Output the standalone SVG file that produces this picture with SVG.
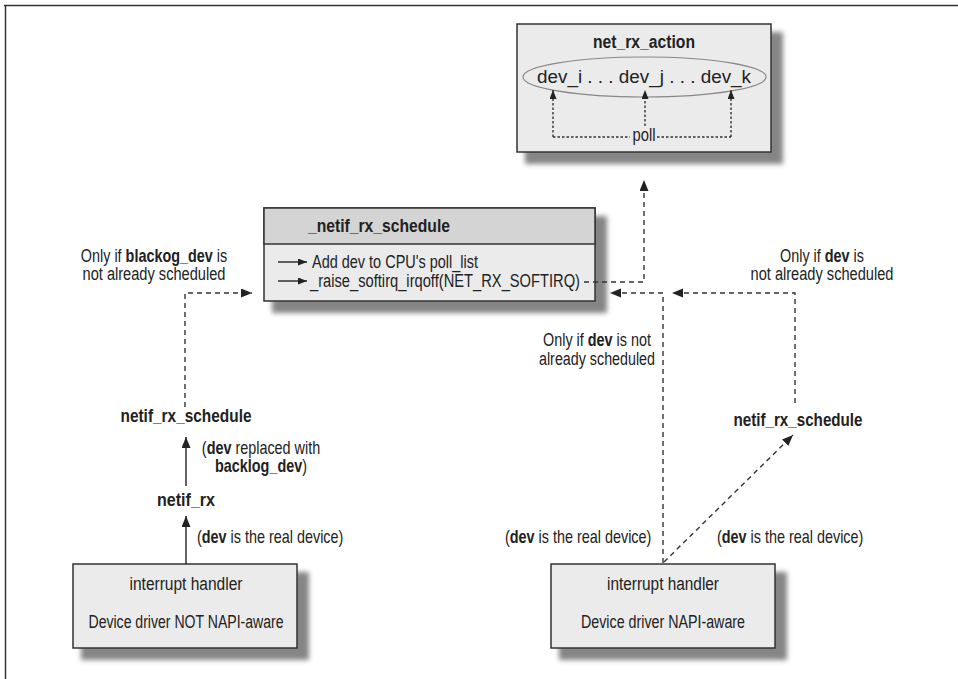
<svg xmlns="http://www.w3.org/2000/svg" width="958" height="679" viewBox="0 0 958 679">
<defs>
  <filter id="blur" x="-20%" y="-20%" width="140%" height="140%"><feGaussianBlur stdDeviation="2.5"/></filter>
  <marker id="ah" markerWidth="12" markerHeight="10" refX="11" refY="4.5" orient="auto" markerUnits="userSpaceOnUse"><path d="M0,0 L11,4.5 L0,9 z" fill="#222"/></marker>
  <marker id="ahs" markerWidth="10" markerHeight="8" refX="9" refY="3.5" orient="auto" markerUnits="userSpaceOnUse"><path d="M0,0 L9,3.5 L0,7 z" fill="#222"/></marker>
</defs>
<style>
  text{font-family:"Liberation Sans Narrow","Liberation Sans",Arial,sans-serif;font-size:18px;fill:#222}
  .b{font-weight:bold}
  text.b{font-size:17.5px}
  .m{text-anchor:middle}
  .box{fill:#ebebeb;stroke:#333;stroke-width:1.5}
  .hdr{fill:#d4d4d4;stroke:#333;stroke-width:1.5}
  .sh{fill:#858585;filter:url(#blur)}
  .dash{fill:none;stroke:#333;stroke-width:1.4;stroke-dasharray:5 4}
  .dot{fill:none;stroke:#333;stroke-width:1.4;stroke-dasharray:2.5 2}
  .solid{fill:none;stroke:#222;stroke-width:1.4}
</style>
<rect width="958" height="679" fill="#fff"/>
<path d="M4,5.5 H958 M5.5,5 V679" stroke="#333" stroke-width="1.5" fill="none"/>

<g id="net_rx_action">
  <rect class="sh" x="525" y="32" width="258" height="132"/>
  <rect class="box" x="517" y="24" width="254" height="128"/>
  <text class="b m" x="644" y="48" textLength="102" lengthAdjust="spacingAndGlyphs">net_rx_action</text>
  <ellipse cx="644.5" cy="77" rx="121.5" ry="20" fill="none" stroke="#888" stroke-width="1.2"/>
  <text class="m" x="644" y="83" textLength="214" lengthAdjust="spacingAndGlyphs">dev_i . . . dev_j . . . dev_k</text>
  <path class="dot" d="M553,137 H630 M657,137 H731"/>
  <path class="dot" d="M553,137 V90" marker-end="url(#ahs)"/>
  <path class="dot" d="M645,126 V90" marker-end="url(#ahs)"/>
  <path class="dot" d="M731,137 V90" marker-end="url(#ahs)"/>
  <text class="m" x="644" y="141" textLength="23" lengthAdjust="spacingAndGlyphs">poll</text>
</g>

<g id="netif_rx_schedule_box">
  <rect class="sh" x="272" y="216" width="335" height="97"/>
  <rect class="box" x="264" y="208" width="331" height="93"/>
  <rect class="hdr" x="264" y="208" width="331" height="36"/>
  <text class="b" x="308" y="232" textLength="142" lengthAdjust="spacingAndGlyphs">_netif_rx_schedule</text>
  <path class="solid" d="M278,262 H307" marker-end="url(#ahs)"/>
  <text x="312" y="268" textLength="166" lengthAdjust="spacingAndGlyphs">Add dev to CPU's poll_list</text>
  <path class="solid" d="M278,281 H307" marker-end="url(#ahs)"/>
  <text x="310" y="287" textLength="270" lengthAdjust="spacingAndGlyphs">_raise_softirq_irqoff(NET_RX_SOFTIRQ)</text>
</g>

<g id="left_driver">
  <rect class="sh" x="81" y="572" width="228" height="88"/>
  <rect class="box" x="73" y="564" width="224" height="84"/>
  <text class="m" x="186" y="590" textLength="113" lengthAdjust="spacingAndGlyphs">interrupt handler</text>
  <text class="m" x="186" y="628" textLength="195" lengthAdjust="spacingAndGlyphs">Device driver NOT NAPI-aware</text>
</g>

<g id="right_driver">
  <rect class="sh" x="559" y="572" width="228" height="88"/>
  <rect class="box" x="551" y="564" width="224" height="84"/>
  <text class="m" x="663" y="590" textLength="112" lengthAdjust="spacingAndGlyphs">interrupt handler</text>
  <text class="m" x="663" y="628" textLength="164" lengthAdjust="spacingAndGlyphs">Device driver NAPI-aware</text>
</g>

<g id="netif_rx_left">
  <text class="b m" x="186" y="506" textLength="58" lengthAdjust="spacingAndGlyphs">netif_rx</text>
</g>
<g id="netif_rx_schedule_left">
  <text class="b m" x="186" y="422" textLength="131" lengthAdjust="spacingAndGlyphs">netif_rx_schedule</text>
</g>
<g id="netif_rx_schedule_right">
  <text class="b m" x="798" y="426" textLength="129" lengthAdjust="spacingAndGlyphs">netif_rx_schedule</text>
</g>

<g id="connectors">
  <path class="dash" d="M185,407 V293 H252" marker-end="url(#ah)"/>
  <path class="solid" d="M186,486 V437" marker-end="url(#ah)"/>
  <path class="solid" d="M186,564 V516" marker-end="url(#ah)"/>
  <path class="dash" d="M584,282 H644 V180" marker-end="url(#ah)"/>
  <path class="dash" d="M663,563 V293 H610" marker-end="url(#ah)"/>
  <path class="dash" d="M795,403 V293 H672" marker-end="url(#ah)"/>
  <path class="dash" d="M664,562 L793,435" marker-end="url(#ah)"/>
</g>

<g id="labels">
  <text class="m" transform="translate(154,262) scale(0.8,1)">Only if <tspan class="b">blackog_dev</tspan> is</text>
  <text class="m" x="154" y="280" textLength="143" lengthAdjust="spacingAndGlyphs">not already scheduled</text>
  <text class="m" transform="translate(822,262) scale(0.8,1)">Only if <tspan class="b">dev</tspan> is</text>
  <text class="m" x="822" y="280" textLength="143" lengthAdjust="spacingAndGlyphs">not already scheduled</text>
  <text class="m" transform="translate(597,346) scale(0.8,1)">Only if <tspan class="b">dev</tspan> is not</text>
  <text class="m" x="597" y="365" textLength="116" lengthAdjust="spacingAndGlyphs">already scheduled</text>
  <text class="m" transform="translate(261,454) scale(0.8,1)">(<tspan class="b">dev</tspan> replaced with</text>
  <text class="m" transform="translate(261,472) scale(0.8,1)"><tspan class="b">backlog_dev</tspan>)</text>
  <text transform="translate(197,543) scale(0.8,1)">(<tspan class="b">dev</tspan> is the real device)</text>
  <text transform="translate(505,543) scale(0.8,1)">(<tspan class="b">dev</tspan> is the real device)</text>
  <text transform="translate(717,543) scale(0.8,1)">(<tspan class="b">dev</tspan> is the real device)</text>
</g>
</svg>
